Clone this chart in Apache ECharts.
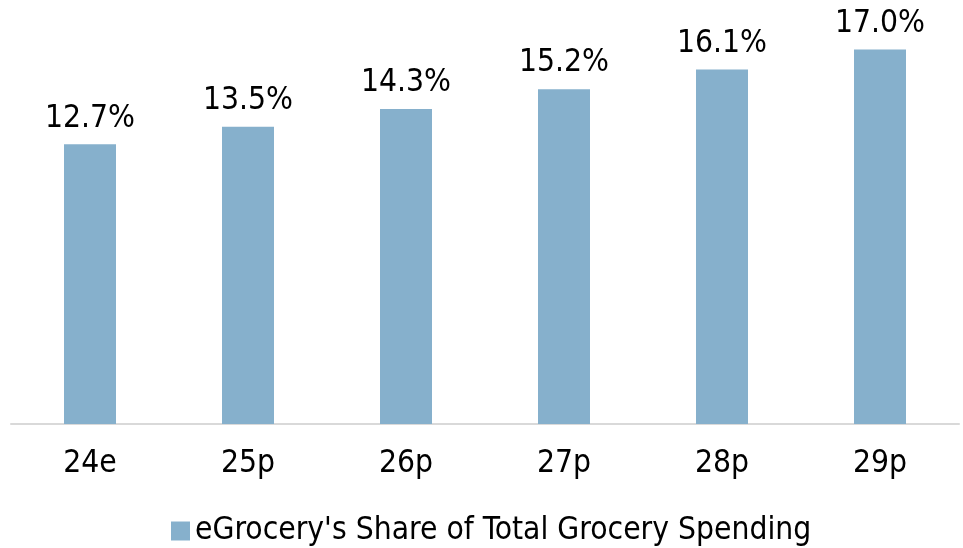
<!DOCTYPE html>
<html>
<head>
<meta charset="utf-8">
<script src="https://cdn.jsdelivr.net/npm/echarts@6/dist/echarts.min.js"></script>
<style>
  html, body { margin: 0; padding: 0; background: #fff; }
  #chart { width: 963px; height: 548px; }
</style>
</head>
<body>
<div id="chart"></div>
<script>
const years = ['24e', '25p', '26p', '27p', '28p', '29p']
const shareValues = [12.7, 13.5, 14.3, 15.2, 16.1, 17.0]
const seriesName = "eGrocery's Share of Total Grocery Spending"

const font = "'DejaVu Sans Condensed', 'DejaVu Sans', sans-serif"

const chart = echarts.init(document.getElementById('chart'))
chart.setOption({
  animation: false,
  textStyle: { fontFamily: font },
  grid: { left: 11, right: 4, top: 27.6, bottom: 124 },
  legend: {
    data: [{ name: seriesName, icon: 'rect' }],
    top: 510,
    left: 166,
    itemWidth: 19,
    itemHeight: 19,
    itemGap: 6,
    textStyle: { fontSize: 31.5, color: '#000', fontFamily: font, padding: [0, 0, 0, 0] },
  },
  xAxis: {
    type: 'category',
    data: years,
    axisLine: { lineStyle: { color: '#d9d9d9', width: 2 } },
    axisTick: { show: false },
    axisLabel: { fontSize: 31.5, color: '#000', margin: 24, fontFamily: font },
  },
  yAxis: {
    type: 'value',
    min: 0,
    max: 18,
    show: false,
  },
  series: [
    {
      name: seriesName,
      type: 'bar',
      data: shareValues,
      barWidth: 52,
      itemStyle: { color: '#86b0cc' },
      label: {
        show: true,
        position: 'top',
        distance: 10,
        fontSize: 31.5,
        color: '#000',
        fontFamily: font,
        formatter: p => p.value.toFixed(1) + '%',
      },
    },
  ],
})
</script>
</body>
</html>
